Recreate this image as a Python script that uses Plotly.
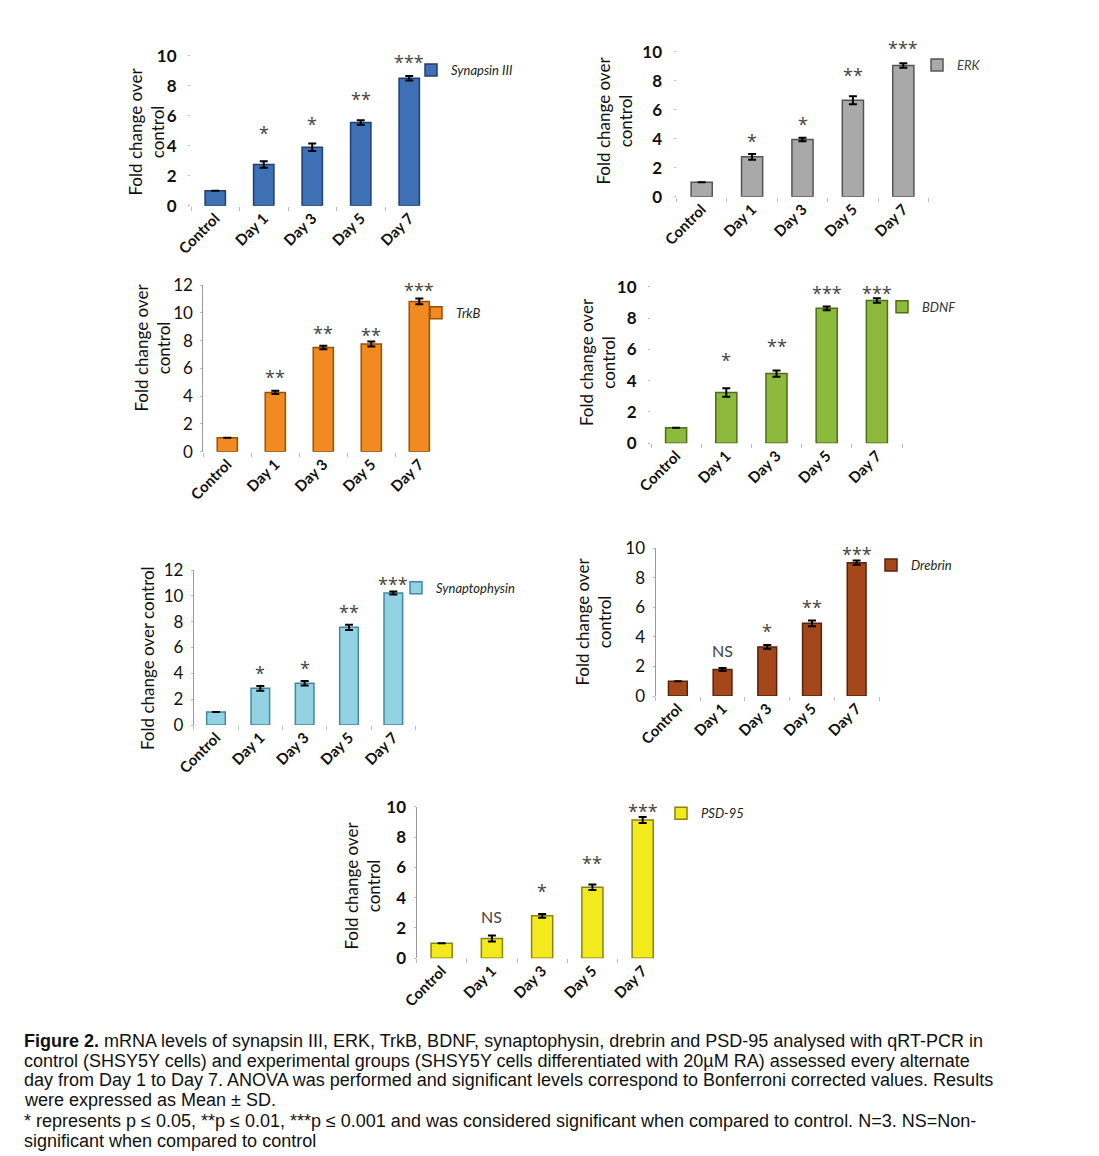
import plotly.graph_objects as go

W, H = 1099, 1156
OFF = 8  # page body margin offset of the rendered figure

categories = ["Control", "Day 1", "Day 3", "Day 5", "Day 7"]

synapsin_mean = [1.0, 2.75, 3.9, 5.55, 8.5]
synapsin_sd = [0, 0.22, 0.25, 0.15, 0.15]
synapsin_sig = ["", "*", "*", "**", "***"]
synapsin_sig_y = [0, 5.25, 5.85, 7.5, 9.98]

erk_mean = [1.0, 2.75, 3.95, 6.65, 9.05]
erk_sd = [0, 0.2, 0.12, 0.28, 0.15]
erk_sig = ["", "*", "*", "**", "***"]
erk_sig_y = [0, 4.25, 5.45, 8.78, 10.65]

trkb_mean = [1.0, 4.27, 7.5, 7.75, 10.82]
trkb_sd = [0, 0.12, 0.13, 0.18, 0.2]
trkb_sig = ["", "**", "**", "**", "***"]
trkb_sig_y = [0, 5.83, 9.0, 8.8, 12.06]

bdnf_mean = [1.0, 3.25, 4.45, 8.62, 9.12]
bdnf_sd = [0, 0.27, 0.2, 0.12, 0.15]
bdnf_sig = ["", "*", "**", "***", "***"]
bdnf_sig_y = [0, 5.7, 6.6, 10.0, 10.0]

syp_mean = [1.0, 2.84, 3.23, 7.56, 10.22]
syp_sd = [0, 0.18, 0.18, 0.2, 0.12]
syp_sig = ["", "*", "*", "**", "***"]
syp_sig_y = [0, 4.47, 4.9, 9.23, 11.4]

drebrin_mean = [1.0, 1.8, 3.32, 4.92, 9.03]
drebrin_sd = [0, 0.1, 0.13, 0.2, 0.15]
drebrin_sig = ["", "NS", "*", "**", "***"]
drebrin_sig_y = [0, 3.05, 4.8, 6.43, 10.0]

psd_mean = [1.0, 1.3, 2.8, 4.68, 9.12]
psd_sd = [0, 0.2, 0.12, 0.18, 0.2]
psd_sig = ["", "NS", "*", "**", "***"]
psd_sig_y = [0, 2.75, 4.83, 6.7, 10.13]

caption_lines = [
    "<b>Figure 2.</b> mRNA levels of synapsin III, ERK, TrkB, BDNF, synaptophysin, drebrin and PSD-95 analysed with qRT-PCR in",
    "control (SHSY5Y cells) and experimental groups (SHSY5Y cells differentiated with 20µM RA) assessed every alternate",
    "day from Day 1 to Day 7. ANOVA was performed and significant levels correspond to Bonferroni corrected values. Results",
    "were expressed as Mean ± SD.",
    "* represents p ≤ 0.05, **p ≤ 0.01, ***p ≤ 0.001 and was considered significant when compared to control. N=3. NS=Non-",
    "significant when compared to control",
]
caption_y_px = [1041, 1060.5, 1080, 1099.5, 1121, 1140.5]

FONT = "Lato, 'Open Sans', sans-serif"


def fx(px):
    return (px - OFF) / W


def fy(py):
    return 1 - (py - OFF) / H


panels = [
    dict(name="Synapsin III", mean=synapsin_mean, sd=synapsin_sd, sig=synapsin_sig, sig_y=synapsin_sig_y,
         color="#3f70b5", lcolor="#1f3f70", x0=191, x1=433.5, y0=205.7, y1=55.7, top=10,
         title="Fold change over<br>control", tpos=(146.5, 132), bold=True, yline=False,
         leg=(432, 70), legcol="#222"),
    dict(name="ERK", mean=erk_mean, sd=erk_sd, sig=erk_sig, sig_y=erk_sig_y,
         color="#a9a9a9", lcolor="#555555", x0=676.5, x1=928.5, y0=196.7, y1=51.7, top=10,
         title="Fold change over<br>control", tpos=(613.5, 121), bold=True, yline=False,
         leg=(938, 65), legcol="#444"),
    dict(name="TrkB", mean=trkb_mean, sd=trkb_sd, sig=trkb_sig, sig_y=trkb_sig_y,
         color="#f28a22", lcolor="#9a4e08", x0=203.3, x1=443.3, y0=451.7, y1=285, top=12,
         title="Fold change over<br>control", tpos=(151.5, 348), bold=False, yline=True,
         leg=(437, 312.7), legcol="#222"),
    dict(name="BDNF", mean=bdnf_mean, sd=bdnf_sd, sig=bdnf_sig, sig_y=bdnf_sig_y,
         color="#8dba3c", lcolor="#4f6e18", x0=651, x1=902, y0=443.3, y1=286.7, top=10,
         title="Fold change over<br>control", tpos=(598, 362), bold=True, yline=False,
         leg=(903, 306.7), legcol="#333"),
    dict(name="Synaptophysin", mean=syp_mean, sd=syp_sd, sig=syp_sig, sig_y=syp_sig_y,
         color="#92d2e3", lcolor="#3f8aa0", x0=193.8, x1=415.5, y0=725, y1=570, top=12,
         title="Fold change over control", tpos=(147, 658), bold=False, yline=True,
         leg=(417, 587.7), legcol="#222"),
    dict(name="Drebrin", mean=drebrin_mean, sd=drebrin_sd, sig=drebrin_sig, sig_y=drebrin_sig_y,
         color="#a4481c", lcolor="#5a220a", x0=655.5, x1=879, y0=696, y1=548.3, top=10,
         title="Fold change over<br>control", tpos=(592.5, 622), bold=False, yline=True,
         leg=(892, 565), legcol="#222"),
    dict(name="PSD-95", mean=psd_mean, sd=psd_sd, sig=psd_sig, sig_y=psd_sig_y,
         color="#f2ea1c", lcolor="#8a8410", x0=416.5, x1=667.8, y0=958.3, y1=806.7, top=10,
         title="Fold change over<br>control", tpos=(361.5, 886), bold=True, yline=True,
         leg=(682, 813.3), legcol="#222"),
]

fig = go.Figure()
annotations = []
layout = dict(width=W, height=H, margin=dict(l=0, r=0, t=0, b=0, autoexpand=False),
              paper_bgcolor="white", plot_bgcolor="white", showlegend=True,
              font=dict(family=FONT, color="#222"))

for i, p in enumerate(panels):
    n = i + 1
    xa = "x" if n == 1 else f"x{n}"
    ya = "y" if n == 1 else f"y{n}"
    lg = "legend" if n == 1 else f"legend{n}"
    fig.add_trace(go.Bar(
        x=categories, y=p["mean"], name=p["name"], xaxis=xa, yaxis=ya, legend=lg,
        width=0.42,
        marker=dict(color=p["color"], line=dict(color=p["lcolor"], width=1.5)),
        error_y=dict(type="data", array=p["sd"], visible=True, color="black",
                     thickness=2, width=4),
    ))
    xkey = "xaxis" if n == 1 else f"xaxis{n}"
    ykey = "yaxis" if n == 1 else f"yaxis{n}"
    layout[xkey] = dict(
        domain=[fx(p["x0"]), fx(p["x1"])], anchor=ya, type="category", automargin=False,
        showline=False, showgrid=False, ticks="outside", ticklen=4, tickcolor="#bbbbbb",
        tickson="boundaries", tickangle=-45,
        tickfont=dict(family=FONT, size=15, weight="bold", color="#111"),
    )
    layout[ykey] = dict(
        domain=[fy(p["y0"]), fy(p["y1"])], anchor=xa, range=[0, p["top"]],
        dtick=2, showgrid=False, zeroline=False, automargin=False,
        showline=p["yline"], linecolor="#999999", linewidth=1,
        ticks="outside", ticklen=2, tickcolor="#bbbbbb",
        ticklabelstandoff=8 if not p["yline"] else 4,
        tickfont=dict(family=FONT, size=17,
                      weight="bold" if p["bold"] else "normal", color="#111"),
    )
    # y-axis title as rotated text
    annotations.append(dict(
        x=fx(p["tpos"][0]), y=fy(p["tpos"][1]), xref="paper", yref="paper",
        text=p["title"], textangle=-90, showarrow=False,
        xanchor="center", yanchor="middle", align="center",
        font=dict(family=FONT, size=17, color="#111"),
    ))
    layout[lg] = dict(
        x=fx(p["leg"][0] - 21), y=fy(p["leg"][1]), xanchor="left", yanchor="middle",
        bgcolor="rgba(0,0,0,0)", borderwidth=0, itemwidth=30,
        font=dict(family=FONT, size=13, style="italic", color=p["legcol"]),
    )
    for c, s, sy in zip(categories, p["sig"], p["sig_y"]):
        if not s:
            continue
        is_ns = s == "NS"
        annotations.append(dict(
            x=c, y=sy / p["top"], xref=xa, yref=f"{ya} domain", text=s, showarrow=False,
            xanchor="center", yanchor="middle", yshift=0 if is_ns else -6,
            font=dict(family="'Open Sans', sans-serif" if not is_ns else FONT,
                      size=16 if is_ns else 18, color="#444"),
        ))

for line, py in zip(caption_lines, caption_y_px):
    annotations.append(dict(
        x=fx(22), y=fy(py), xref="paper", yref="paper", text=line, showarrow=False,
        xanchor="left", yanchor="middle", align="left",
        font=dict(family="'Liberation Sans', Arial, sans-serif", size=18, color="#111"),
    ))

layout["annotations"] = annotations
fig.update_layout(**layout)
fig.write_html("out.html")
